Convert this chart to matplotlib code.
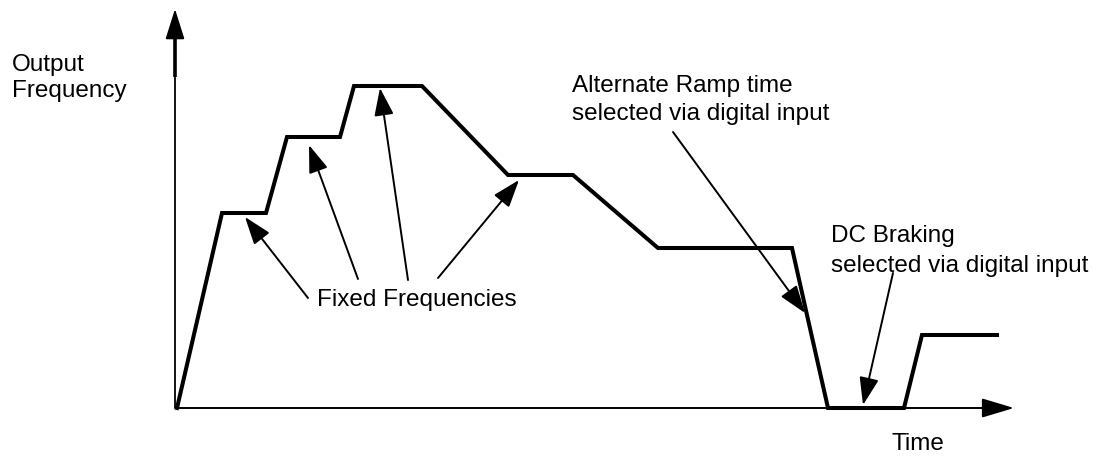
import matplotlib
matplotlib.use('Agg')
import matplotlib.pyplot as plt

# output frequency profile (time / frequency in arbitrary units)
time = [0, 45, 89, 110, 163, 177, 245, 331, 396, 481, 615, 630, 651, 727, 745, 820]
freq = [0, 195, 195, 271, 271, 322, 322, 233, 233, 160, 160, 93, 0, 0, 73, 73]

# annotation arrows: (tail, tip)
fixed_arrows = [((131, 110), (68, 191)),
                ((181, 129), (132, 263)),
                ((231, 128), (203, 320)),
                ((261, 130), (342, 228))]
ramp_arrow = ((496, 276), (628, 95))
dc_arrow = ((716, 135), (686, 3))

y_label = ['Output', 'Frequency']
ramp_label = ['Alternate Ramp time', 'selected via digital input']
dc_label = ['DC Braking', 'selected via digital input']
fixed_label = 'Fixed Frequencies'
x_label = 'Time'

plt.rcParams['font.family'] = ['Liberation Sans', 'DejaVu Sans']
FS = 17.5

fig = plt.figure(figsize=(11.01, 4.57), dpi=100)
ax = fig.add_axes([0, 0, 1, 1])
ax.set_xlim(-177, 924)
ax.set_ylim(-49, 408)
ax.axis('off')

# axes with arrow heads
axis_style = dict(arrowstyle='-|>', mutation_scale=1, color='black',
                  shrinkA=0, shrinkB=0)
ax.annotate('', xy=(837, 0), xytext=(0, 0),
            arrowprops=dict(lw=1.4, **axis_style, **{}) if False else
            dict(arrowstyle='-|>,head_length=20,head_width=6', mutation_scale=1,
                 color='black', lw=1.4, shrinkA=0, shrinkB=0))
ax.annotate('', xy=(-2, 399), xytext=(-2, 0),
            arrowprops=dict(arrowstyle='-|>,head_length=19,head_width=6', mutation_scale=1,
                            color='black', lw=1.3, shrinkA=0, shrinkB=0))
ax.plot([-2, -2], [331, 374], color='black', lw=2.6, solid_capstyle='butt')

# frequency profile
ax.plot(time, freq, color='black', lw=2.9, solid_joinstyle='miter')

arrow_props = dict(arrowstyle='-|>,head_length=17,head_width=6', mutation_scale=1,
                   color='black', lw=1.4, shrinkA=0, shrinkB=0)
for tail, tip in fixed_arrows + [ramp_arrow, dc_arrow]:
    ax.annotate('', xy=tip, xytext=tail, arrowprops=arrow_props)

ax.text(-165, 337, y_label[0], fontsize=FS, va='baseline')
ax.text(-165, 311, y_label[1], fontsize=FS, va='baseline')
ax.text(140, 102, fixed_label, fontsize=FS, va='baseline')
ax.text(395, 316, ramp_label[0], fontsize=FS, va='baseline')
ax.text(395, 288, ramp_label[1], fontsize=FS, va='baseline')
ax.text(654, 166, dc_label[0], fontsize=FS, va='baseline')
ax.text(654, 136, dc_label[1], fontsize=FS, va='baseline')
ax.text(741, -36, x_label, fontsize=FS, ha='center', va='center')

fig.savefig('out.png', dpi=100)
